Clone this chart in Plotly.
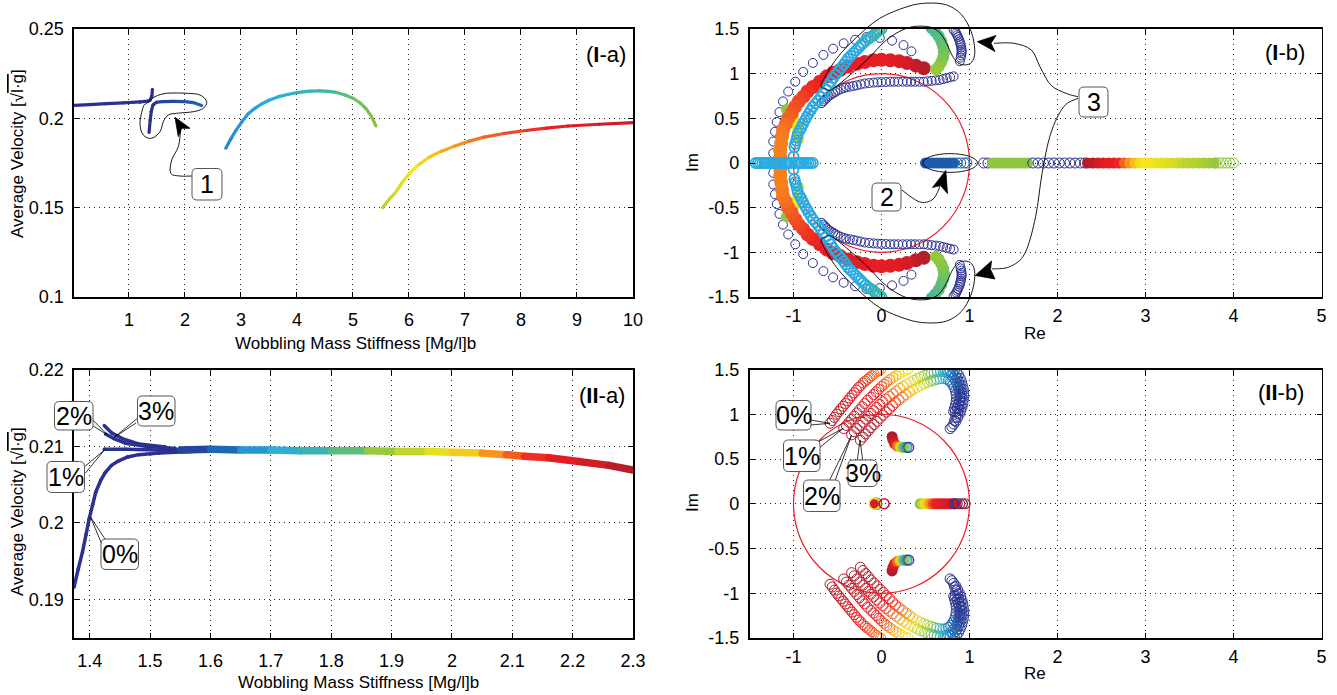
import plotly.graph_objects as go

W, H = 1337, 695

# ---------------------------------------------------------------- data
# (I-a)  average velocity vs wobbling-mass stiffness
ia_c1_x = [0.02, 0.3, 0.6, 0.9, 1.2, 1.34, 1.38, 1.41, 1.42]
ia_c1_y = [0.2073, 0.2077, 0.2082, 0.2087, 0.2092, 0.2096, 0.2103, 0.2125, 0.2163]
ia_c1_t = [0, 0, 0, 0, 0, 0, 0, 0, 0]
ia_c2_x = [1.36, 1.38, 1.40, 1.43, 1.49, 1.6, 1.8, 2.0, 2.15, 2.3]
ia_c2_y = [0.1921, 0.1990, 0.2040, 0.2075, 0.2090, 0.2094, 0.2095, 0.2094, 0.2088, 0.2072]
ia_c2_t = [0, 0, 0, 0, 0.02, 0.05, 0.08, 0.11, 0.14, 0.17]
ia_c3_x = [2.73, 2.82, 2.91, 3.02, 3.13, 3.25, 3.36, 3.5, 3.66, 3.85, 4.03, 4.22, 4.41, 4.56, 4.71, 4.86, 5.01, 5.13, 5.23, 5.33, 5.41]
ia_c3_y = [0.1833, 0.1885, 0.1932, 0.1982, 0.2026, 0.2056, 0.2079, 0.2101, 0.2120, 0.2135, 0.2145, 0.2152, 0.2154, 0.2151, 0.2145, 0.2131, 0.2111, 0.2086, 0.2055, 0.2012, 0.1957]
ia_c3_t = [0.26, 0.27, 0.28, 0.29, 0.30, 0.31, 0.32, 0.33, 0.34, 0.355, 0.37, 0.385, 0.40, 0.415, 0.43, 0.445, 0.46, 0.47, 0.48, 0.49, 0.50]
ia_c4_x = [5.53, 5.64, 5.76, 5.89, 6.02, 6.18, 6.36, 6.57, 6.81, 7.06, 7.34, 7.7, 8.09, 8.45, 8.84, 9.4, 10.0]
ia_c4_y = [0.1500, 0.1545, 0.1585, 0.1645, 0.1697, 0.1742, 0.1782, 0.1815, 0.1844, 0.1871, 0.1895, 0.1915, 0.1932, 0.1945, 0.1957, 0.1967, 0.1976]
ia_c4_t = [0.55, 0.575, 0.6, 0.62, 0.64, 0.66, 0.68, 0.71, 0.74, 0.765, 0.79, 0.815, 0.84, 0.86, 0.88, 0.91, 0.94]

# (II-a)
iia_0_x = [1.374, 1.381, 1.388, 1.394, 1.399, 1.405, 1.410, 1.418, 1.426, 1.436, 1.448, 1.463, 1.481, 1.515, 1.57]
iia_0_y = [0.1916, 0.1940, 0.1962, 0.1985, 0.2005, 0.2024, 0.2040, 0.2055, 0.2066, 0.2075, 0.2081, 0.2086, 0.2089, 0.2091, 0.2093]
iia_1_x = [1.424, 1.46, 1.515, 1.57]
iia_1_y = [0.2096, 0.2096, 0.2095, 0.2095]
iia_2_x = [1.426, 1.44, 1.459, 1.493, 1.542]
iia_2_y = [0.2116, 0.2110, 0.2104, 0.2100, 0.2097]
iia_3_x = [1.424, 1.437, 1.454, 1.481, 1.526]
iia_3_y = [0.2127, 0.2117, 0.2110, 0.2103, 0.2099]
iia_b_x = [1.55, 1.6, 1.65, 1.70, 1.75, 1.80, 1.86, 1.91, 1.96, 2.0, 2.05, 2.09, 2.12, 2.16, 2.21, 2.26, 2.3]
iia_b_y = [0.2095, 0.2096, 0.2095, 0.2095, 0.2094, 0.2094, 0.2094, 0.2093, 0.2093, 0.2092, 0.2091, 0.2089, 0.2087, 0.2085, 0.2080, 0.2075, 0.2069]
iia_b_t = [0.02, 0.12, 0.25, 0.33, 0.37, 0.42, 0.48, 0.55, 0.60, 0.65, 0.72, 0.78, 0.83, 0.87, 0.90, 0.94, 0.98]

# (I-b) root locus, upper half (lower half is the conjugate)
ib_out_re = [0.34, 0.25, 0.12, -0.02, -0.17, -0.30, -0.43, -0.55, -0.66, -0.78, -0.89, -0.98, -1.06, -1.12, -1.16, -1.19, -1.21, -1.23, -1.23]
ib_out_im = [1.25, 1.32, 1.37, 1.40, 1.41, 1.38, 1.34, 1.28, 1.21, 1.12, 1.02, 0.91, 0.80, 0.69, 0.57, 0.46, 0.35, 0.24, 0.11]
ib_in_re = [0.82, 0.78, 0.74, 0.70, 0.66, 0.615, 0.57, 0.525, 0.48, 0.43, 0.38, 0.335, 0.29, 0.24, 0.19, 0.145, 0.10, 0.05, 0.0, -0.045,
            -0.09, -0.14, -0.19, -0.235, -0.28, -0.32, -0.36, -0.40, -0.43, -0.465, -0.50, -0.525, -0.55, -0.575, -0.60, -0.62, -0.64, -0.66, -0.68]
ib_in_im = [0.97, 0.96, 0.95, 0.94, 0.93, 0.925, 0.92, 0.915, 0.91, 0.91, 0.91, 0.91, 0.91, 0.91, 0.91, 0.91, 0.91, 0.907, 0.905, 0.903,
            0.90, 0.895, 0.89, 0.88, 0.87, 0.862, 0.855, 0.847, 0.84, 0.825, 0.81, 0.795, 0.78, 0.765, 0.75, 0.73, 0.71, 0.69, 0.67]
ib_lb_re = [0.0, -0.025, -0.05, -0.07, -0.09, -0.12, -0.15, -0.18, -0.21, -0.235, -0.26, -0.29, -0.32, -0.35, -0.38, -0.405, -0.43, -0.46,
            -0.49, -0.52, -0.55, -0.575, -0.60, -0.63, -0.66, -0.69, -0.72, -0.75, -0.78, -0.805, -0.83, -0.85, -0.87, -0.89, -0.91,
            -0.93, -0.95, -0.96, -0.97, -0.98, -0.99, -1.0]
ib_lb_im = [1.50, 1.485, 1.47, 1.45, 1.43, 1.41, 1.39, 1.365, 1.34, 1.315, 1.29, 1.26, 1.23, 1.20, 1.17, 1.135, 1.10, 1.065, 1.03, 0.99,
            0.95, 0.91, 0.87, 0.825, 0.78, 0.74, 0.70, 0.665, 0.63, 0.59, 0.55, 0.515, 0.48, 0.44, 0.40, 0.365, 0.33, 0.29, 0.25, 0.215,
            0.18, 0.07]
ib_lb_t = [0.43, 0.42, 0.41, 0.40, 0.39, 0.38, 0.37, 0.36, 0.35, 0.34, 0.335, 0.33, 0.33, 0.33, 0.33, 0.33, 0.33, 0.33, 0.33, 0.33, 0.33,
           0.33, 0.33, 0.33, 0.33, 0.33, 0.33, 0.33, 0.33, 0.33, 0.33, 0.33, 0.33, 0.33, 0.33, 0.33, 0.33, 0.33, 0.33, 0.33, 0.33, 0.33]
ib_red_re = [0.48, 0.39, 0.29, 0.20, 0.10, 0.0, -0.09, -0.19, -0.28, -0.38, -0.47, -0.55, -0.62, -0.70, -0.78, -0.84, -0.89, -0.94, -0.98, -1.02, -1.06, -1.09, -1.12, -1.13, -1.14, -1.15, -1.15, -1.15]
ib_red_im = [1.06, 1.09, 1.12, 1.14, 1.15, 1.155, 1.15, 1.13, 1.11, 1.08, 1.04, 1.01, 0.97, 0.91, 0.85, 0.80, 0.74, 0.69, 0.63, 0.56, 0.50, 0.43, 0.37, 0.30, 0.22, 0.14, 0.07, 0.0]
ib_red_t = [0.97, 0.95, 0.92, 0.90, 0.89, 0.88, 0.88, 0.88, 0.88, 0.88, 0.88, 0.88, 0.875, 0.87, 0.86, 0.85, 0.84, 0.83, 0.82, 0.81, 0.80, 0.79, 0.78, 0.775, 0.77, 0.77, 0.77, 0.77]
ib_gy_re = [-1.08, -1.04, -1.0, -0.97, -0.95, -0.94]
ib_gy_im = [0.60, 0.55, 0.49, 0.42, 0.34, 0.27]
ib_gy_t = [0.5, 0.55, 0.6, 0.64, 0.65, 0.66]
ib_g_re = [0.57, 0.61, 0.65, 0.68, 0.70, 0.71, 0.70, 0.68, 0.65, 0.62]
ib_g_im = [1.51, 1.47, 1.42, 1.36, 1.30, 1.24, 1.18, 1.13, 1.08, 1.05]
ib_g_t = [0.42, 0.43, 0.44, 0.45, 0.46, 0.47, 0.48, 0.49, 0.50, 0.51]
ib_ns_re = [0.82, 0.84, 0.85, 0.86, 0.87, 0.88, 0.89, 0.895, 0.90, 0.905, 0.91, 0.91, 0.91, 0.905, 0.90, 0.89]
ib_ns_im = [1.49, 1.47, 1.45, 1.43, 1.41, 1.385, 1.36, 1.34, 1.32, 1.295, 1.27, 1.25, 1.23, 1.205, 1.18, 1.14]
# (I-b) real-axis roots
ib_rlb_re = [-1.43, -1.405, -1.38, -1.355, -1.33, -1.305, -1.28, -1.255, -1.23, -1.205, -1.18, -1.155, -1.13, -1.105, -1.08,
             -1.03, -0.98, -0.955, -0.93, -0.905, -0.88, -0.855, -0.83, -0.805, -0.78]
ib_rb_re = [0.50, 0.54, 0.58, 0.62, 0.66, 0.70, 0.74, 0.78, 0.82]
ib_rbo_re = [0.86, 0.90, 0.94, 0.97]
ib_rn1_re = [1.16, 1.21]
ib_rg_re = [1.26, 1.30, 1.34, 1.38, 1.42, 1.46, 1.50, 1.54, 1.58, 1.62, 1.66]
ib_rn2_re = [1.72, 1.78, 1.84, 1.90, 1.96, 2.02, 2.08, 2.14, 2.20, 2.26, 2.31]
ib_rgr_re = [2.34, 2.40, 2.46, 2.52, 2.58, 2.64, 2.70, 2.76, 2.82, 2.88, 2.94, 3.0, 3.06, 3.12, 3.18, 3.24, 3.30, 3.36, 3.42, 3.48, 3.54, 3.60, 3.66, 3.72, 3.78]
ib_rgr_t = [0.98, 0.96, 0.93, 0.90, 0.88, 0.87, 0.86, 0.80, 0.75, 0.70, 0.66, 0.65, 0.65, 0.64, 0.63, 0.62, 0.61, 0.60, 0.58, 0.57, 0.56, 0.55, 0.54, 0.53, 0.52]
ib_rgo_re = [3.80, 3.84, 3.88, 3.92, 3.96, 4.0]

# (II-b) root locus, upper half, damping 0 %, 1 %, 2 %, 3 %
iib_a0_re = [-0.585, -0.56, -0.535, -0.51, -0.485, -0.46, -0.435, -0.41, -0.385, -0.36, -0.335, -0.31, -0.285, -0.26, -0.235,
             -0.21, -0.185, -0.16, -0.135, -0.11, -0.085, -0.06, -0.035, -0.01]
iib_a0_im = [0.90, 0.93, 0.965, 1.0, 1.03, 1.06, 1.09, 1.12, 1.15, 1.18, 1.21, 1.24, 1.27, 1.30, 1.32, 1.35, 1.37, 1.39, 1.41,
             1.43, 1.45, 1.47, 1.485, 1.50]
iib_a0_t = [1.0, 0.99, 0.98, 0.97, 0.96, 0.95, 0.94, 0.93, 0.92, 0.91, 0.90, 0.89, 0.88, 0.87, 0.86, 0.85, 0.84, 0.83, 0.82,
            0.81, 0.80, 0.79, 0.78, 0.77]
iib_a0r_re = [0.83, 0.855, 0.875, 0.895, 0.91, 0.92, 0.93, 0.935, 0.935, 0.93, 0.925, 0.915, 0.9, 0.885, 0.865, 0.845, 0.82, 0.80, 0.78]
iib_a0r_im = [1.50, 1.47, 1.44, 1.40, 1.36, 1.32, 1.28, 1.24, 1.20, 1.16, 1.12, 1.08, 1.04, 1.00, 0.96, 0.92, 0.89, 0.86, 0.84]
iib_a0r_t = [0.08, 0.07, 0.06, 0.05, 0.04, 0.03, 0.03, 0.02, 0.02, 0.01, 0.01, 0, 0, 0, 0, 0, 0, 0, 0]
iib_a1_re = [-0.43, -0.40, -0.37, -0.34, -0.31, -0.28, -0.25, -0.22, -0.19, -0.16, -0.12, -0.09, -0.06, -0.03, 0.0, 0.03, 0.06,
             0.095, 0.13, 0.165, 0.20, 0.235, 0.27, 0.30]
iib_a1_im = [0.84, 0.875, 0.91, 0.945, 0.98, 1.015, 1.05, 1.085, 1.12, 1.155, 1.19, 1.22, 1.25, 1.28, 1.31, 1.335, 1.36, 1.385,
             1.41, 1.43, 1.45, 1.47, 1.49, 1.50]
iib_a1_t = [1.0, 0.99, 0.975, 0.96, 0.95, 0.94, 0.93, 0.92, 0.91, 0.90, 0.89, 0.88, 0.87, 0.855, 0.84, 0.82, 0.80, 0.77, 0.74,
            0.71, 0.68, 0.66, 0.64, 0.63]
iib_a1r_re = [0.72, 0.75, 0.78, 0.81, 0.84, 0.86, 0.88, 0.895, 0.905, 0.91, 0.91, 0.905, 0.895, 0.88, 0.865, 0.845, 0.83]
iib_a1r_im = [1.50, 1.49, 1.475, 1.455, 1.43, 1.40, 1.36, 1.32, 1.28, 1.24, 1.19, 1.15, 1.10, 1.06, 1.01, 0.97, 0.93]
iib_a1r_t = [0.30, 0.26, 0.21, 0.16, 0.12, 0.09, 0.06, 0.05, 0.04, 0.03, 0.02, 0.015, 0.01, 0.005, 0, 0, 0]
iib_a2_re = [-0.34, -0.31, -0.28, -0.245, -0.21, -0.18, -0.15, -0.12, -0.09, -0.055, -0.02, 0.015, 0.05, 0.09, 0.13, 0.17, 0.21,
             0.25, 0.29, 0.33, 0.37, 0.41, 0.45, 0.49, 0.53, 0.565, 0.60, 0.635, 0.67, 0.70, 0.73, 0.76, 0.79, 0.815, 0.84, 0.855,
             0.87, 0.88, 0.89, 0.89, 0.885, 0.875, 0.86, 0.84]
iib_a2_im = [0.77, 0.805, 0.84, 0.875, 0.91, 0.945, 0.98, 1.01, 1.04, 1.075, 1.11, 1.14, 1.17, 1.20, 1.23, 1.26, 1.29, 1.315,
             1.34, 1.36, 1.38, 1.40, 1.42, 1.435, 1.45, 1.46, 1.47, 1.475, 1.48, 1.478, 1.47, 1.46, 1.44, 1.41, 1.38, 1.345, 1.31,
             1.27, 1.23, 1.19, 1.15, 1.11, 1.07, 1.03]
iib_a2_t = [1.0, 0.99, 0.98, 0.97, 0.96, 0.95, 0.94, 0.93, 0.92, 0.90, 0.88, 0.86, 0.84, 0.82, 0.80, 0.77, 0.74, 0.71, 0.68,
            0.64, 0.60, 0.57, 0.55, 0.53, 0.50, 0.47, 0.44, 0.41, 0.38, 0.35, 0.31, 0.27, 0.22, 0.17, 0.12, 0.09, 0.06, 0.04, 0.03,
            0.02, 0.01, 0.0, 0.0, 0.0]
iib_a3_re = [-0.24, -0.21, -0.18, -0.15, -0.12, -0.085, -0.05, -0.015, 0.02, 0.055, 0.09, 0.125, 0.16, 0.20, 0.24, 0.28, 0.32,
             0.36, 0.40, 0.44, 0.48, 0.52, 0.56, 0.595, 0.63, 0.665, 0.70, 0.73, 0.76, 0.785, 0.81, 0.825, 0.84, 0.848, 0.852,
             0.848, 0.84, 0.83, 0.82]
iib_a3_im = [0.71, 0.745, 0.78, 0.815, 0.85, 0.885, 0.92, 0.955, 0.99, 1.025, 1.06, 1.095, 1.13, 1.16, 1.19, 1.22, 1.25, 1.275,
             1.30, 1.32, 1.34, 1.355, 1.37, 1.38, 1.39, 1.397, 1.40, 1.395, 1.38, 1.36, 1.33, 1.30, 1.26, 1.22, 1.18, 1.14, 1.10,
             1.065, 1.03]
iib_a3_t = [1.0, 0.99, 0.98, 0.97, 0.96, 0.95, 0.94, 0.93, 0.91, 0.90, 0.88, 0.86, 0.84, 0.81, 0.79, 0.76, 0.73, 0.70, 0.66,
            0.62, 0.58, 0.55, 0.51, 0.48, 0.44, 0.40, 0.36, 0.31, 0.26, 0.21, 0.15, 0.11, 0.07, 0.05, 0.03, 0.02, 0.01, 0.0, 0.0]
iib_cl_re = [0.12, 0.13, 0.15, 0.18, 0.21, 0.23, 0.25, 0.27, 0.29, 0.31]
iib_cl_im = [0.75, 0.71, 0.67, 0.645, 0.635, 0.63, 0.63, 0.63, 0.63, 0.63]
iib_cl_t = [1.0, 0.95, 0.90, 0.80, 0.70, 0.60, 0.50, 0.40, 0.25, 0.05]
iib_r_re = [0.44, 0.47, 0.50, 0.53, 0.56, 0.59, 0.62, 0.65, 0.68, 0.71, 0.74, 0.77, 0.80, 0.83]
iib_r_t = [0.50, 0.58, 0.64, 0.70, 0.76, 0.82, 0.86, 0.88, 0.88, 0.90, 0.90, 0.92, 0.93, 0.95]
iib_ro_re = [0.83, 0.86, 0.89, 0.92, 0.95]
iib_ro_t = [0.0, 0.0, 0.95, 0.0, 0.95]
iib_o_re = [-0.06, -0.07, -0.075, -0.08, 0.03]
iib_o_t = [0.05, 0.35, 0.65, 0.90, 0.97]

# ---------------------------------------------------------------- colours
CS = [[0.0, '#2b3190'], [0.12, '#1f55a8'], [0.22, '#1b75bc'], [0.33, '#29abe2'],
      [0.42, '#3fb8a0'], [0.5, '#8dc63f'], [0.65, '#f5e51b'], [0.75, '#f7941d'],
      [0.87, '#ed1c24'], [1.0, '#a51e2a']]


def _rgb(h):
    h = h.lstrip('#')
    return [int(h[i:i + 2], 16) for i in (0, 2, 4)]


def jet(t):
    t = max(0.0, min(1.0, t))
    for (a, ca), (b, cb) in zip(CS[:-1], CS[1:]):
        if a <= t <= b:
            f = 0 if b == a else (t - a) / (b - a)
            A, B = _rgb(ca), _rgb(cb)
            return 'rgb(%d,%d,%d)' % tuple(round(A[i] + f * (B[i] - A[i])) for i in range(3))
    return CS[-1][1]


# ---------------------------------------------------------------- layout geometry
def px2p(px, py):
    return px / W, 1 - py / H


LX = (74, 633)
RX = (749.5, 1321.5)
TY = (29, 297)
BY = (369.5, 638)


def dom(a, b, vertical=False):
    if vertical:
        return [1 - b / H, 1 - a / H]
    return [a / W, b / W]


fig = go.Figure()


def grad_line(x, y, t, xa, ya, width):
    for i in range(len(x) - 1):
        c = jet((t[i] + t[i + 1]) / 2)
        fig.add_trace(go.Scatter(x=x[i:i + 2], y=y[i:i + 2], mode='lines+markers',
                                 line=dict(color=c, width=width),
                                 marker=dict(color=c, size=width * 0.95),
                                 xaxis=xa, yaxis=ya, hoverinfo='skip', showlegend=False))


def pts(re, im, t, xa, ya, symbol='circle-open', size=9, lw=1.0, mirror=True):
    signs = [1, -1] if mirror else [1]
    for s in signs:
        fig.add_trace(go.Scatter(
            x=re, y=[s * v for v in im], mode='markers',
            marker=dict(symbol=symbol, size=size, color=t, colorscale=CS, cmin=0, cmax=1,
                        line=dict(width=lw if 'open' in symbol else 0)),
            xaxis=xa, yaxis=ya, hoverinfo='skip', showlegend=False, cliponaxis=True))


# ---- (I-a)
grad_line(ia_c1_x, ia_c1_y, ia_c1_t, 'x', 'y', 3.2)
grad_line(ia_c2_x, ia_c2_y, ia_c2_t, 'x', 'y', 3.2)
grad_line(ia_c3_x, ia_c3_y, ia_c3_t, 'x', 'y', 3.2)
grad_line(ia_c4_x, ia_c4_y, ia_c4_t, 'x', 'y', 3.2)

# ---- (II-a)
for xs, ys in [(iia_0_x, iia_0_y), (iia_1_x, iia_1_y), (iia_2_x, iia_2_y), (iia_3_x, iia_3_y)]:
    grad_line(xs, ys, [0] * len(xs), 'x3', 'y3', 3.5)
grad_line(iia_b_x, iia_b_y, iia_b_t, 'x3', 'y3', 7.5)

# ---- (I-b)
pts(ib_out_re, ib_out_im, [0] * len(ib_out_re), 'x2', 'y2', size=9)
pts(ib_gy_re, ib_gy_im, ib_gy_t, 'x2', 'y2', symbol='circle', size=11)
pts(ib_red_re, ib_red_im, ib_red_t, 'x2', 'y2', symbol='circle', size=14)
pts(ib_in_re, ib_in_im, [0] * len(ib_in_re), 'x2', 'y2', size=9)
pts(ib_lb_re, ib_lb_im, ib_lb_t, 'x2', 'y2', size=10, lw=1.9)
pts(ib_g_re, ib_g_im, ib_g_t, 'x2', 'y2', symbol='circle', size=12)
pts(ib_ns_re, ib_ns_im, [0] * len(ib_ns_re), 'x2', 'y2', size=9)
pts(ib_rlb_re, [0] * len(ib_rlb_re), [0.33] * len(ib_rlb_re), 'x2', 'y2', size=10, lw=1.8, mirror=False)
pts(ib_rb_re, [0] * len(ib_rb_re), [0.14] * len(ib_rb_re), 'x2', 'y2', symbol='circle', size=11, mirror=False)
pts(ib_rbo_re, [0] * len(ib_rbo_re), [0.17] * len(ib_rbo_re), 'x2', 'y2', size=10, mirror=False)
pts(ib_rn1_re, [0] * len(ib_rn1_re), [0] * len(ib_rn1_re), 'x2', 'y2', size=10, mirror=False)
pts(ib_rg_re, [0] * len(ib_rg_re), [0.5] * len(ib_rg_re), 'x2', 'y2', symbol='circle', size=11, mirror=False)
pts(ib_rn2_re, [0] * len(ib_rn2_re), [0] * len(ib_rn2_re), 'x2', 'y2', size=10, mirror=False)
pts(ib_rgr_re, [0] * len(ib_rgr_re), ib_rgr_t, 'x2', 'y2', symbol='circle', size=11, mirror=False)
pts(ib_rgo_re, [0] * len(ib_rgo_re), [0.5] * len(ib_rgo_re), 'x2', 'y2', size=10, mirror=False)

# ---- (II-b)
for r, i, t in [(iib_a0_re, iib_a0_im, iib_a0_t), (iib_a0r_re, iib_a0r_im, iib_a0r_t),
                (iib_a1_re, iib_a1_im, iib_a1_t), (iib_a1r_re, iib_a1r_im, iib_a1r_t),
                (iib_a2_re, iib_a2_im, iib_a2_t), (iib_a3_re, iib_a3_im, iib_a3_t)]:
    pts(r, i, t, 'x4', 'y4', size=10, lw=1.0)
pts(iib_cl_re[:7], iib_cl_im[:7], iib_cl_t[:7], 'x4', 'y4', symbol='circle', size=11)
pts(iib_cl_re[7:], iib_cl_im[7:], iib_cl_t[7:], 'x4', 'y4', size=10, lw=1.2)
pts(iib_r_re, [0] * len(iib_r_re), iib_r_t, 'x4', 'y4', symbol='circle', size=11, mirror=False)
pts(iib_ro_re, [0] * len(iib_ro_re), iib_ro_t, 'x4', 'y4', size=10, lw=1.2, mirror=False)
pts(iib_o_re[:3], [0, 0, 0], iib_o_t[:3], 'x4', 'y4', size=11, lw=1.5, mirror=False)
pts(iib_o_re[3:4], [0], iib_o_t[3:4], 'x4', 'y4', symbol='circle', size=9, mirror=False)
pts(iib_o_re[4:], [0], iib_o_t[4:], 'x4', 'y4', size=10, lw=1.6, mirror=False)

# ---------------------------------------------------------------- axes
FONT = 'Liberation Sans, Arial, Helvetica, sans-serif'


def axis(domain, rng, vals, texts, anchor, standoff=4):
    return dict(domain=domain, range=rng, tickvals=vals, ticktext=texts, anchor=anchor,
                showgrid=True, gridcolor='#222222', griddash='1px,4px', gridwidth=1,
                zeroline=False, showline=True, linecolor='black', linewidth=1.6,
                mirror='ticks', ticks='inside', ticklen=5, tickcolor='black', tickwidth=1,
                tickfont=dict(family=FONT, size=18, color='black'), automargin=False,
                fixedrange=True, ticklabelstandoff=standoff)


re_vals = [-1, 0, 1, 2, 3, 4, 5]
re_txt = ['-1', '0', '1', '2', '3', '4', '5']
im_vals = [-1.5, -1, -0.5, 0, 0.5, 1, 1.5]
im_txt = ['-1.5', '-1', '-0.5', '0', '0.5', '1', '1.5']

fig.update_layout(
    width=W, height=H, margin=dict(l=0, r=0, t=0, b=0),
    paper_bgcolor='white', plot_bgcolor='white', showlegend=False,
    font=dict(family=FONT, color='black'),
    xaxis=axis(dom(*LX), [0.02, 10], list(range(1, 11)), [str(v) for v in range(1, 11)], 'y', 6),
    yaxis=axis(dom(*TY, vertical=True), [0.1, 0.25], [0.1, 0.15, 0.2, 0.25], ['0.1', '0.15', '0.2', '0.25'], 'x', 5),
    xaxis2=axis(dom(*RX), [-1.5, 5], re_vals, re_txt, 'y2', 2),
    yaxis2=axis(dom(*TY, vertical=True), [-1.5, 1.5], im_vals, im_txt, 'x2', 5),
    xaxis3=axis(dom(*LX), [1.374, 2.3], [1.4, 1.5, 1.6, 1.7, 1.8, 1.9, 2.0, 2.1, 2.2, 2.3],
                ['1.4', '1.5', '1.6', '1.7', '1.8', '1.9', '2', '2.1', '2.2', '2.3'], 'y3', 6),
    yaxis3=axis(dom(*BY, vertical=True), [0.185, 0.22], [0.19, 0.2, 0.21, 0.22], ['0.19', '0.2', '0.21', '0.22'], 'x3', 5),
    xaxis4=axis(dom(*RX), [-1.5, 5], re_vals, re_txt, 'y4', 2),
    yaxis4=axis(dom(*BY, vertical=True), [-1.5, 1.5], im_vals, im_txt, 'x4', 5),
)

# ---------------------------------------------------------------- decorations
shapes = []
annots = []


def P(p):
    x, y = px2p(*p)
    return '%.5f,%.5f' % (x, y)


def smooth(points, closed=False):
    n = len(points)
    if closed:
        Q = [points[-1]] + points + [points[0], points[1]]
        segs = n
    else:
        Q = [points[0]] + points + [points[-1]]
        segs = n - 1
    d = 'M ' + P(Q[1])
    for i in range(1, segs + 1):
        p0, p1, p2, p3 = Q[i - 1], Q[i], Q[i + 1], Q[i + 2]
        c1 = (p1[0] + (p2[0] - p0[0]) / 6, p1[1] + (p2[1] - p0[1]) / 6)
        c2 = (p2[0] - (p3[0] - p1[0]) / 6, p2[1] - (p3[1] - p1[1]) / 6)
        d += ' C ' + P(c1) + ' ' + P(c2) + ' ' + P(p2)
    if closed:
        d += ' Z'
    return d


def curve(points, closed=False, w=1.0):
    shapes.append(dict(type='path', xref='paper', yref='paper', path=smooth(points, closed),
                       line=dict(color='black', width=w), layer='above'))


def poly(points, fill=None, w=0.8):
    d = 'M ' + ' L '.join(P(p) for p in points)
    if fill:
        d += ' Z'
    shapes.append(dict(type='path', xref='paper', yref='paper', path=d,
                       line=dict(color='black', width=w), fillcolor=fill if fill else 'rgba(0,0,0,0)',
                       layer='above'))


def box(x0, y0, x1, y1, text, size=25, r=5):
    d = ('M ' + P((x0 + r, y0)) + ' L ' + P((x1 - r, y0)) + ' Q ' + P((x1, y0)) + ' ' + P((x1, y0 + r)) +
         ' L ' + P((x1, y1 - r)) + ' Q ' + P((x1, y1)) + ' ' + P((x1 - r, y1)) +
         ' L ' + P((x0 + r, y1)) + ' Q ' + P((x0, y1)) + ' ' + P((x0, y1 - r)) +
         ' L ' + P((x0, y0 + r)) + ' Q ' + P((x0, y0)) + ' ' + P((x0 + r, y0)) + ' Z')
    shapes.append(dict(type='path', xref='paper', yref='paper', path=d,
                       line=dict(color='#555555', width=1), fillcolor='white', layer='above'))
    cx, cy = px2p((x0 + x1) / 2, (y0 + y1) / 2)
    annots.append(dict(x=cx, y=cy, xref='paper', yref='paper', text=text, showarrow=False,
                       font=dict(family=FONT, size=size, color='black'), xanchor='center', yanchor='middle'))


def label(px, py, text, size=15, angle=0):
    x, y = px2p(px, py)
    annots.append(dict(x=x, y=y, xref='paper', yref='paper', text=text, showarrow=False, textangle=angle,
                       font=dict(family=FONT, size=size, color='black'), xanchor='center', yanchor='middle'))


def ib(re, im, top=True):
    y0 = 163 if top else 503.7
    return (881.5 + re * 88, y0 - im * 89.3)


# unit circles
for xa, ya in [('x2', 'y2'), ('x4', 'y4')]:
    shapes.append(dict(type='circle', xref=xa, yref=ya, x0=-1, x1=1, y0=-1, y1=1,
                       line=dict(color='#ee1c25', width=1.2), layer='between'))

# (I-a) callout "1"
curve([(143.3, 106.7), (140, 123.3), (143.3, 135), (151.7, 138.3), (160, 131.7), (163.3, 121.7),
       (168.3, 115), (176.7, 113.3), (193.3, 111.7), (203.3, 108.3), (206.7, 101.7), (200, 95),
       (186.7, 93.3), (166.7, 93.3), (155, 96.7), (146.7, 103.3)], closed=True, w=0.9)
curve([(180.7, 130), (178.3, 146.7), (171.7, 160), (170.7, 173.3), (180, 176), (192, 176)], w=0.9)
poly([(175, 117.3), (190, 128.3), (181.7, 128.3), (178.3, 136.7)], fill='black')
box(192, 168.5, 222, 200, '1')

# (I-b) callouts
loop_re = [-0.68, -0.51, -0.28, -0.02, 0.29, 0.51, 0.74, 0.91, 1.02, 1.06, 1.04, 0.97, 0.87, 0.80, 0.74,
           0.65, 0.51, 0.29, 0.06, -0.17, -0.40, -0.57, -0.64]
loop_im = [0.89, 1.17, 1.41, 1.62, 1.75, 1.79, 1.77, 1.66, 1.47, 1.27, 1.15, 1.10, 1.12, 1.21, 1.34,
           1.47, 1.53, 1.51, 1.38, 1.15, 0.95, 0.82, 0.83]
curve([ib(a, b) for a, b in zip(loop_re, loop_im)], closed=True, w=0.9)
curve([ib(a, -b) for a, b in zip(loop_re, loop_im)], closed=True, w=0.9)
shapes.append(dict(type='circle', xref='paper', yref='paper',
                   x0=px2p(*ib(0.47, 0))[0], x1=px2p(*ib(1.09, 0))[0],
                   y0=px2p(*ib(0, 0.105))[1], y1=px2p(*ib(0, -0.105))[1],
                   line=dict(color='black', width=0.9), layer='above'))
curve([(901.8, 190), (919.1, 201.7), (932, 200), (938.5, 190), (940.7, 181.7)], w=0.9)
poly([(945.8, 170.5), (947.5, 193.5), (940.5, 185.5), (932.5, 187.5)], fill='black')
box(872, 183, 901, 211, '2')
curve([(1078, 96.7), (1065.9, 93.3), (1050.8, 85), (1040, 66.7), (1031.3, 50), (1014, 43.3), (994, 43.3)], w=0.9)
poly([(977.4, 41.7), (996, 35.5), (991, 43.3), (995, 51.5)], fill='black')
curve([(1078, 98.3), (1063.7, 106.7), (1050.8, 133.3), (1042.1, 173.3), (1035.6, 216.7), (1024.9, 253.3),
       (1009.7, 266.7), (992, 269)], w=0.9)
poly([(975.2, 275.5), (991.5, 261), (990.5, 269.5), (995, 279)], fill='black')
box(1079, 87, 1108, 117, '3')

# (II-a) callouts
poly([(91, 418), (107, 434.5), (93, 426)])
box(54.5, 401.5, 93, 430, '2%')
poly([(139, 417), (114, 437.5), (136, 423)])
box(137.5, 396, 175, 426, '3%')
poly([(83, 468), (104.5, 450), (85, 473.5)])
box(47, 461.5, 84.5, 492.5, '1%')
poly([(101.5, 543.5), (90.5, 517), (105, 539)])
box(101, 539, 138.5, 569.5, '0%')

# (II-b) callouts
poly([(810.7, 420), (830, 423.3), (810.7, 425)])
box(776, 400.5, 811, 430, '0%')
poly([(816.7, 442.7), (843.3, 428.3), (820, 447.3)])
box(783.5, 440, 820, 471.5, '1%')
poly([(829.3, 480.7), (851.7, 435), (835, 480.7)])
box(803.5, 480, 840, 511.5, '2%')
poly([(857.3, 460), (860, 440), (862.7, 460)])
box(848, 460, 877, 486.5, '3%')

# panel tags
label(606, 55, '(<b>I</b>-a)', 22)
label(1285, 52, '(<b>I</b>-b)', 22)
label(602, 395, '(<b>II</b>-a)', 22)
label(1281, 392, '(<b>II</b>-b)', 22)

# axis titles
vel = "Average Velocity [√<span style='text-decoration:overline'>l·g</span>]"
label(17, 154, vel, 17, -90)
label(17, 512, vel, 17, -90)
label(355, 343, 'Wobbling Mass Stiffness [Mg/l]b', 17)
label(358, 682, 'Wobbling Mass Stiffness [Mg/l]b', 17)
label(692, 163, 'Im', 17, -90)
label(692, 503, 'Im', 17, -90)
label(1035, 333, 'Re', 17)
label(1035, 673, 'Re', 17)

fig.update_layout(shapes=shapes, annotations=annots)

fig.write_html("out.html", include_plotlyjs=True, full_html=True,
               config={'displayModeBar': False, 'staticPlot': True},
               post_script="document.body.style.margin='0';document.body.style.overflow='hidden';")
